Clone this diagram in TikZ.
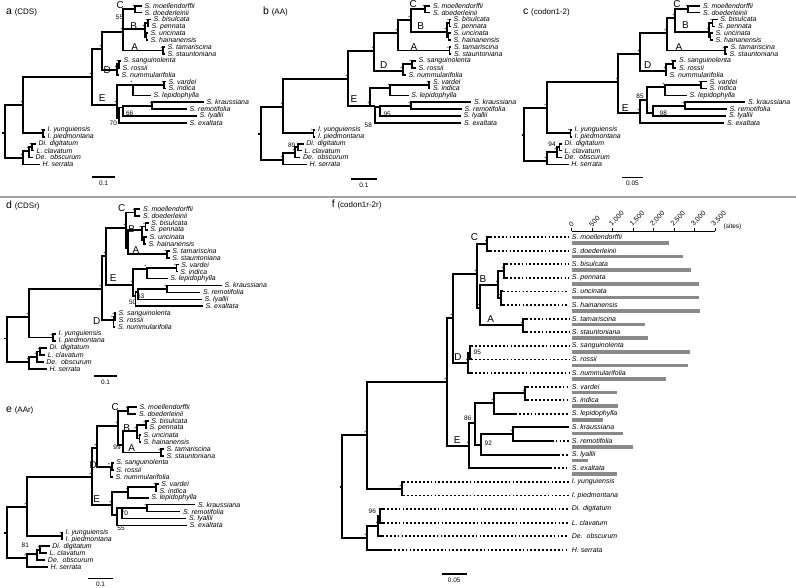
\documentclass[tikz,border=0pt]{standalone}
\usepackage{fontspec}
\setmainfont{Liberation Sans}
\usetikzlibrary{calc}
\definecolor{sep}{HTML}{A3A3A3}
\definecolor{barc}{HTML}{8A8A8A}
\tikzset{
  br/.style={draw=black, line width=1.7bp, line join=miter},
  dotline/.style={draw=black, line width=1.8bp, dash pattern=on 1.8bp off 2.1bp},
  tax/.style={font=\fontsize{7}{8}\selectfont\itshape, anchor=west, inner sep=0pt},
  ast/.style={font=\fontsize{5}{5}\selectfont, inner sep=0.2bp},
  bs/.style={font=\fontsize{6.5}{7}\selectfont, inner sep=0pt},
  clade/.style={font=\fontsize{10}{10}\selectfont, inner sep=0pt},
  ttl/.style={anchor=west, inner sep=0pt},
  sbar/.style={draw=black, line width=1.3bp},
  sblab/.style={font=\fontsize{6.5}{7}\selectfont, inner sep=0pt},
  rootmk/.style={fill=black, inner sep=0pt, minimum width=2.5bp, minimum height=1.6bp, anchor=east},
  sepline/.style={draw=sep, line width=2.2bp},
  axisline/.style={draw=black, line width=0.6bp},
  bar/.style={fill=barc},
  ticklab/.style={font=\fontsize{7}{7}\selectfont, anchor=south west, rotate=45, inner sep=0.5bp}
}
% taxa, shared by all six trees
\def\taxa{moe/S. moellendorffii, doe/S. doederleinii, bis/S. bisulcata, pen/S. pennata,
  unc/S. uncinata, hai/S. hainanensis, tam/S. tamariscina, sta/S. stauntoniana,
  san/S. sanguinolenta, ros/S. rossii, num/S. nummularifolia, var/S. vardei,
  ind/S. indica, lep/S. lepidophylla, kra/S. kraussiana, rem/S. remotifolia,
  lya/S. lyallii, exa/S. exaltata, yun/I. yunguiensis, pie/I. piedmontana,
  dig/Di. digitatum, cla/L. clavatum, obs/De.\ \ obscurum, ser/H. serrata}
% branches found in every tree
\def\commonedges{R/Ing, R/Lyc, Ing/Sel, Ing/Iso, Iso/yun, Iso/pie, Lyc/LDD, Lyc/ser,
  LDD/DL, LDD/obs, DL/dig, DL/cla, C/moe, C/doe, B/B1, B/B2, B1/bis, B1/pen,
  B2/unc, B2/hai, A/tam, A/sta, D/D1, D/num, D1/san, D1/ros, VIL/VI, VIL/lep,
  VI/var, VI/ind, KRL/KR, KRL/lya, KR/kra, KR/rem}
\newcommand\treepts[2]{\foreach \k/\x/\y in {#2} \coordinate (#1\k) at (\x,\y);}
\newcommand\branches[2]{\foreach \p/\c in {#2} \draw[br] (#1\p) |- (#1\c);}
\newcommand\commonbranches[1]{\foreach \p/\c in \commonedges \draw[br] (#1\p) |- (#1\c);}
\newcommand\supports[2]{\foreach \c in {#2} \node[ast, above left] at (#1\c) {*};}
\newcommand\taxlabels[1]{\foreach \k/\t in \taxa \node[tax] (#1t\k) at ([xshift=2.5bp]#1\k) {\t};}
\newcommand\clades[2]{\foreach \n/\x/\y in {#2} \node[clade] (#1L\n) at (\x,\y) {\n};}
\newcommand\bsvals[2]{\foreach \v/\x/\y in {#2} \node[bs] (#1S\v) at (\x,\y) {\v};}
\newcommand\ptitle[2]{{\fontsize{10.5}{12}\selectfont #1} {\fontsize{8}{10}\selectfont(#2)}}

\begin{document}
\begin{tikzpicture}[x=1bp, y=-1bp]
  \useasboundingbox (0,0) rectangle (796,588);
  \draw[sepline] (0,197) -- (796,197);

  % a (CDS)
  \node[ttl] (tta) at (6,12) {\ptitle{a}{CDS}};
  \treepts{a}{R/5/133, Ing/23/105, Lyc/23/158, LDD/29/151, DL/32/147.15, Iso/43/133.35,
    Sel/92/77, SelU/102/49, CBA/123/32, C/135/9.15, B/145/29, B1/148/22.95, B2/146.5/36.75,
    A/163/50.55, D/117/70, D1/119/64.35, E/117/105, VIL/133/85.05, VI/164/85.05,
    E2/119/118, KRL/123/107.5, KR/152/105.75,
    moe/142/5.7, doe/142/12.6, bis/151/19.5, pen/149/26.4, unc/148/33.3, hai/148/40.2,
    tam/165/47.1, sta/165/54.0, san/121/60.9, ros/120/67.8, num/119/74.7, var/166/81.6,
    ind/166/88.5, lep/151/95.4, kra/204/102.3, rem/187/109.2, lya/197/116.1, exa/187/123.0,
    yun/45/129.9, pie/45/136.8, dig/36/143.7, cla/34/150.6, obs/33/157.5, ser/40/164.4}
  \commonbranches{a}
  \branches{a}{Sel/SelU, Sel/E, SelU/CBA, SelU/D, CBA/C, CBA/B, CBA/A, E/VIL, E/E2, E2/KRL, E2/exa}
  \supports{a}{Ing, Sel, SelU, CBA, C, B, B1, B2, A, D, D1, E, VIL, VI, KR, Iso, Lyc, LDD, DL}
  \node[rootmk] (arm) at (aR) {};
  \taxlabels{a}
  \clades{a}{C/120.3/5.3, B/133.8/26, A/134.7/46.7, D/107.2/70.3, E/102.3/98.3}
  \bsvals{a}{55/119.5/17.5, 70/113.3/123, 66/129.7/113}
  \coordinate (asb1) at (92,177);
  \coordinate (asb2) at (115,177);
  \draw[sbar] (asb1) -- node[sblab, below=3.5bp] (asl) {0.1} (asb2);

  % b (AA)
  \node[ttl] (ttb) at (263,12) {\ptitle{b}{AA}};
  \treepts{b}{R/261/134, Ing/283.3/107, Lyc/283.3/160, LDD/295/153.3, DL/298/147.15,
    Iso/313.5/133.35, Sel/348/79, SelU/374.3/50.7, CBA/398.3/33.3, CB/410.7/20, C/425/9.15,
    B/446.7/31.7, B1/449.5/22.95, B2/448.5/36.75, A/449.5/50.55, D/402.7/71, D1/411.7/64.35,
    E/370/106, VIL/390/88, VI/429/85.05, E2/375/106, KRL/380/107.3, KR/410.7/105.75,
    moe/430.3/5.7, doe/430.3/12.6, bis/451/19.5, pen/450.3/26.4, unc/451/33.3, hai/451/40.2,
    tam/451.3/47.1, sta/451.3/54.0, san/416/60.9, ros/416/67.8, num/406/74.7, var/430.3/81.6,
    ind/430.3/88.5, lep/408.7/95.4, kra/471.3/102.3, rem/462/109.2, lya/461/116.1,
    exa/461.3/123.0, yun/315.3/129.9, pie/315.3/136.8, dig/303.7/143.7, cla/302/150.6,
    obs/300.3/157.5, ser/307/164.4}
  \commonbranches{b}
  \branches{b}{Sel/SelU, Sel/E, SelU/CBA, SelU/D, CBA/CB, CB/C, CB/B, CBA/A, E/VIL, E/E2, E2/KRL, E2/exa}
  \supports{b}{Ing, Sel, SelU, CBA, CB, C, B, B1, B2, A, D, D1, E, VIL, VI, KR, Iso, Lyc, LDD}
  \node[rootmk] (brm) at (bR) {};
  \taxlabels{b}
  \clades{b}{C/413.3/4, B/420.7/26, A/414/47, D/383.7/65.5, E/354/99}
  \bsvals{b}{89/291.7/145.3, 95/387.2/114, 58/368.3/125}
  \coordinate (bsb1) at (351,179);
  \coordinate (bsb2) at (376.7,179);
  \draw[sbar] (bsb1) -- node[sblab, below=3.5bp] (bsl) {0.1} (bsb2);

  % c (codon1-2)
  \node[ttl] (ttc) at (523,12) {\ptitle{c}{codon1-2}};
  \treepts{c}{R/524.3/135, Ing/546.7/108.3, Lyc/546.7/160.7, LDD/556.7/151.7, DL/559.5/147.15,
    Iso/570.5/133.35, Sel/618.3/81.7, SelU/640/54, CBA/666.7/33.3, CB/675/18.3, C/688.3/9.15,
    B/709.3/31.7, B1/712.5/22.95, B2/710.5/36.75, A/725/50.55, D/666/70.7, D1/673.3/64.35,
    E/640/113.3, E2/646.7/100, VIL/665/87.3, VI/701/85.05, KRL/653.3/113, KR/685/105.75,
    moe/700.3/5.7, doe/700.3/12.6, bis/717.7/19.5, pen/715.3/26.4, unc/713/33.3, hai/713/40.2,
    tam/728/47.1, sta/727/54.0, san/676.3/60.9, ros/676.3/67.8, num/667/74.7, var/707/81.6,
    ind/707/88.5, lep/687/95.4, kra/745.3/102.3, rem/727/109.2, lya/726.3/116.1,
    exa/724.3/123.0, yun/572/129.9, pie/572/136.8, dig/562/143.7, cla/562/150.6,
    obs/562/157.5, ser/568.7/164.4}
  \commonbranches{c}
  \branches{c}{Sel/SelU, Sel/E, SelU/CBA, SelU/D, CBA/CB, CB/C, CB/B, CBA/A, E/E2, E/exa, E2/VIL, E2/KRL}
  \supports{c}{Ing, Sel, SelU, CBA, CB, C, B, B1, B2, A, D, D1, E, VIL, VI, KR, Iso, Lyc, LDD}
  \node[rootmk] (crm) at (cR) {};
  \taxlabels{c}
  \clades{c}{C/677/4, B/685.5/25.3, A/679/47, D/647.7/65.3, E/625.3/107.8}
  \bsvals{c}{94/552/144.7, 85/640/96.7, 98/663.3/112.8}
  \coordinate (csb1) at (621.7,177.3);
  \coordinate (csb2) at (643.3,177.3);
  \draw[sbar] (csb1) -- node[sblab, below=3.5bp] (csl) {0.05} (csb2);

  % d (CDSr)
  \node[ttl] (ttd) at (6,206) {\ptitle{d}{CDSr}};
  \treepts{d}{R/7/338.3, Ing/29/316.7, Lyc/29/361.7, LDD/36.7/356.7, DL/40/351.5,
    Iso/53.3/337.6, Sel/101.7/289.3, SelU/106/256, CBA/126/228.3, C/135/212.5, BA/128/248,
    B/141.7/230, B1/145.5/226.4, B2/144/240.3, A/166.7/254.2, E/133.3/285, VIL/146.7/269,
    VI/176.5/268.1, E2/135.5/296, KRL/138/292, KR/166.7/288.9, D/113.5/320, D1/114.8/316.7,
    moe/140.3/209, doe/140.3/215.95, bis/148.7/222.9, pen/147.7/229.85, unc/147/236.8,
    hai/146/243.75, tam/169.7/250.7, sta/169.7/257.65, var/178.7/264.6, ind/177.7/271.55,
    lep/167.7/278.5, kra/222/285.45, rem/200.3/292.4, lya/202/299.35, exa/203/306.3,
    san/116/313.25, ros/116/320.2, num/115.3/327.15, yun/56/334.1, pie/56/341.05,
    dig/47/348, cla/45.3/354.95, obs/43.7/361.9, ser/47/368.85}
  \commonbranches{d}
  \branches{d}{Sel/SelU, Sel/D, SelU/CBA, SelU/E, CBA/C, CBA/BA, BA/B, BA/A, E/VIL, E/E2, E2/KRL, E2/exa}
  \supports{d}{Ing, Sel, SelU, CBA, C, BA, B, B1, B2, A, E, VIL, VI, KR, D, D1, Iso, Lyc, LDD, DL}
  \node[rootmk] (drm) at (dR) {};
  \taxlabels{d}
  \clades{d}{C/121.7/208.3, B/131.7/229.3, A/136/250, E/113.3/278.3, D/96.7/321}
  \bsvals{d}{63/140.7/296, 50/132.7/302.7}
  \coordinate (dsb1) at (94.3,376);
  \coordinate (dsb2) at (116.7,376);
  \draw[sbar] (dsb1) -- node[sblab, below=3.5bp] (dsl) {0.1} (dsb2);

  % e (AAr)
  \node[ttl] (tte) at (6,410) {\ptitle{e}{AAr}};
  \treepts{e}{R/7/532.7, Ing/26.7/506.7, Lyc/26.7/558.3, LDD/37.3/554, DL/40/549.8,
    Iso/61.7/535.9, Sel/91.7/477.3, SelU/96.7/448.3, CBA/118.3/426, C/128.3/410.8,
    BA/122.7/445, B/136.7/431, B1/145.7/424.7, B2/139.5/438.6, A/161/452.5, D/110.5/467.3,
    D1/112/466.4, E/111.7/505, VIL/128.3/491.7, VI/155.7/487.2, E2/116.7/515,
    KRL/121.7/508.3, KR/146.7/508.1,
    moe/137/407.3, doe/136.3/414.25, bis/148.7/421.2, pen/147/428.15, unc/141/435.1,
    hai/141/442.05, tam/164/449, sta/164/455.95, san/113.7/462.9, ros/113.7/469.85,
    num/113/476.8, var/158.7/483.75, ind/157/490.7, lep/148.7/497.65, kra/195.3/504.6,
    rem/180.3/511.55, lya/186.3/518.5, exa/187/525.45, yun/63/532.4, pie/63/539.35,
    dig/49.7/546.3, cla/47/553.25, obs/45.3/560.2, ser/48/567.15}
  \commonbranches{e}
  \branches{e}{Sel/SelU, Sel/E, SelU/CBA, SelU/D, CBA/C, CBA/BA, BA/B, BA/A, E/VIL, E/E2, E2/KRL, E2/exa}
  \supports{e}{Ing, Sel, SelU, CBA, C, B, B1, B2, A, D, E, VIL, VI, KR, Iso, Lyc, DL}
  \node[rootmk] (erm) at (eR) {};
  \taxlabels{e}
  \clades{e}{C/115.3/407, B/126.7/427.7, A/131.7/448.3, D/93.3/465, E/96.7/499.3}
  \bsvals{e}{99/117/447, 70/124.3/513.3, 55/121/528.3, 81/25.3/545.7}
  \coordinate (esb1) at (87.7,578.5);
  \coordinate (esb2) at (113.3,578.5);
  \draw[sbar] (esb1) -- node[sblab, below=2.5bp] (esl) {0.1} (esb2);

  % f (codon1r-2r)
  \node[ttl] (ttf) at (331.7,205) {\ptitle{f}{codon1r-2r}};
  \begin{scope}[br/.append style={line width=2bp}]
  \treepts{f}{R/342.3/486.7, Ing/366.7/435, Lyc/366.7/538.3, LDD/378.3/525.7, DL/380/515.8,
    Iso/401.7/488.6, Sel/446.7/381.7, SelU/452.7/318.3, CBA/476.7/274, C/487.3/243.8,
    BA/480/308.3, B/498.3/285, B1/504/271, B2/500.7/298.2, A/523.3/325.4, D/468.3/363.3,
    D1/470/352.6, E/469.3/446, E2/475/423.3, VIL/494/403.3, VI/525/393.4, KRL/480.7/445,
    KR/513.3/434.2,
    moe/490/237, doe/490/250.6, bis/506/264.2, pen/506/277.8, unc/503/291.4, hai/503/305,
    tam/526/318.6, sta/526/332.2, san/471.5/345.8, ros/471.5/359.4, num/471/373,
    var/527.5/386.6, ind/527.5/400.2, lep/515/413.8, kra/569/427.4, rem/551.7/441,
    lya/558.3/454.6, exa/550/468.2, yun/403.3/481.8, pie/403.3/495.4, dig/383/509,
    cla/383/522.6, obs/382/536.2, ser/390/549.8}
  \commonbranches{f}
  \branches{f}{Sel/SelU, Sel/E, SelU/CBA, SelU/D, CBA/C, CBA/BA, BA/B, BA/A, E/E2, E/exa, E2/VIL, E2/KRL}
  \end{scope}
  \supports{f}{Ing, Sel, SelU, CBA, C, BA, B, B1, B2, A, D, E, VIL, VI, KR, Iso, Lyc, LDD}
  \node[rootmk] (frm) at (fR) {};
  \coordinate (fx) at (571.7,0);
  \foreach \k/\t in \taxa \node[tax] (ft\k) at (fx |- f\k) {\t};
  \foreach \k in {moe, doe, bis, pen, unc, hai, tam, sta, san, ros, num, var, ind, lep,
    rem, lya, exa, yun, pie, dig, cla, obs, ser}
    \draw[dotline] (f\k) -- ([xshift=-2.5bp]ft\k.west);
  \clades{f}{C/474.5/237.5, B/483/278.8, A/490.7/319.5, D/458/357.5, E/457.3/440}
  \bsvals{f}{95/477.3/352, 86/467.7/418.3, 92/488.3/443.3, 96/372.3/511.7}
  \coordinate (fsb1) at (441.7,574);
  \coordinate (fsb2) at (466.7,574);
  \draw[sbar] (fsb1) -- node[sblab, below=3.5bp] (fsl) {0.05} (fsb2);

  % sites per taxon
  \coordinate (ax0) at (571.7,231);
  \coordinate (ax1) at (715,231);
  \draw[axisline] (ax0) -- (ax1);
  \foreach \v/\l in {0/0, 500/500, 1000/{1,000}, 1500/{1,500}, 2000/{2,000}, 2500/{2,500},
    3000/{3,000}, 3500/{3,500}}
    \draw[axisline] (571.7+\v*0.0409,231) -- ++(0,-2.7) node[ticklab] {\l};
  \node[sblab, anchor=west] (fsites) at (723.5,227) {(sites)};
  \foreach \k/\v in {moe/2386, doe/2714, bis/2917, pen/3120, unc/3120, hai/3137,
    tam/1792, sta/1873, san/2892, ros/2851, num/2298, var/1115, ind/1140, lep/758,
    kra/1262, rem/1491, lya/406, exa/1100}
    \fill[bar] (ft\k.west) ++(0,4.2) rectangle ++(\v*0.0409,3.6);
\end{tikzpicture}
\end{document}
